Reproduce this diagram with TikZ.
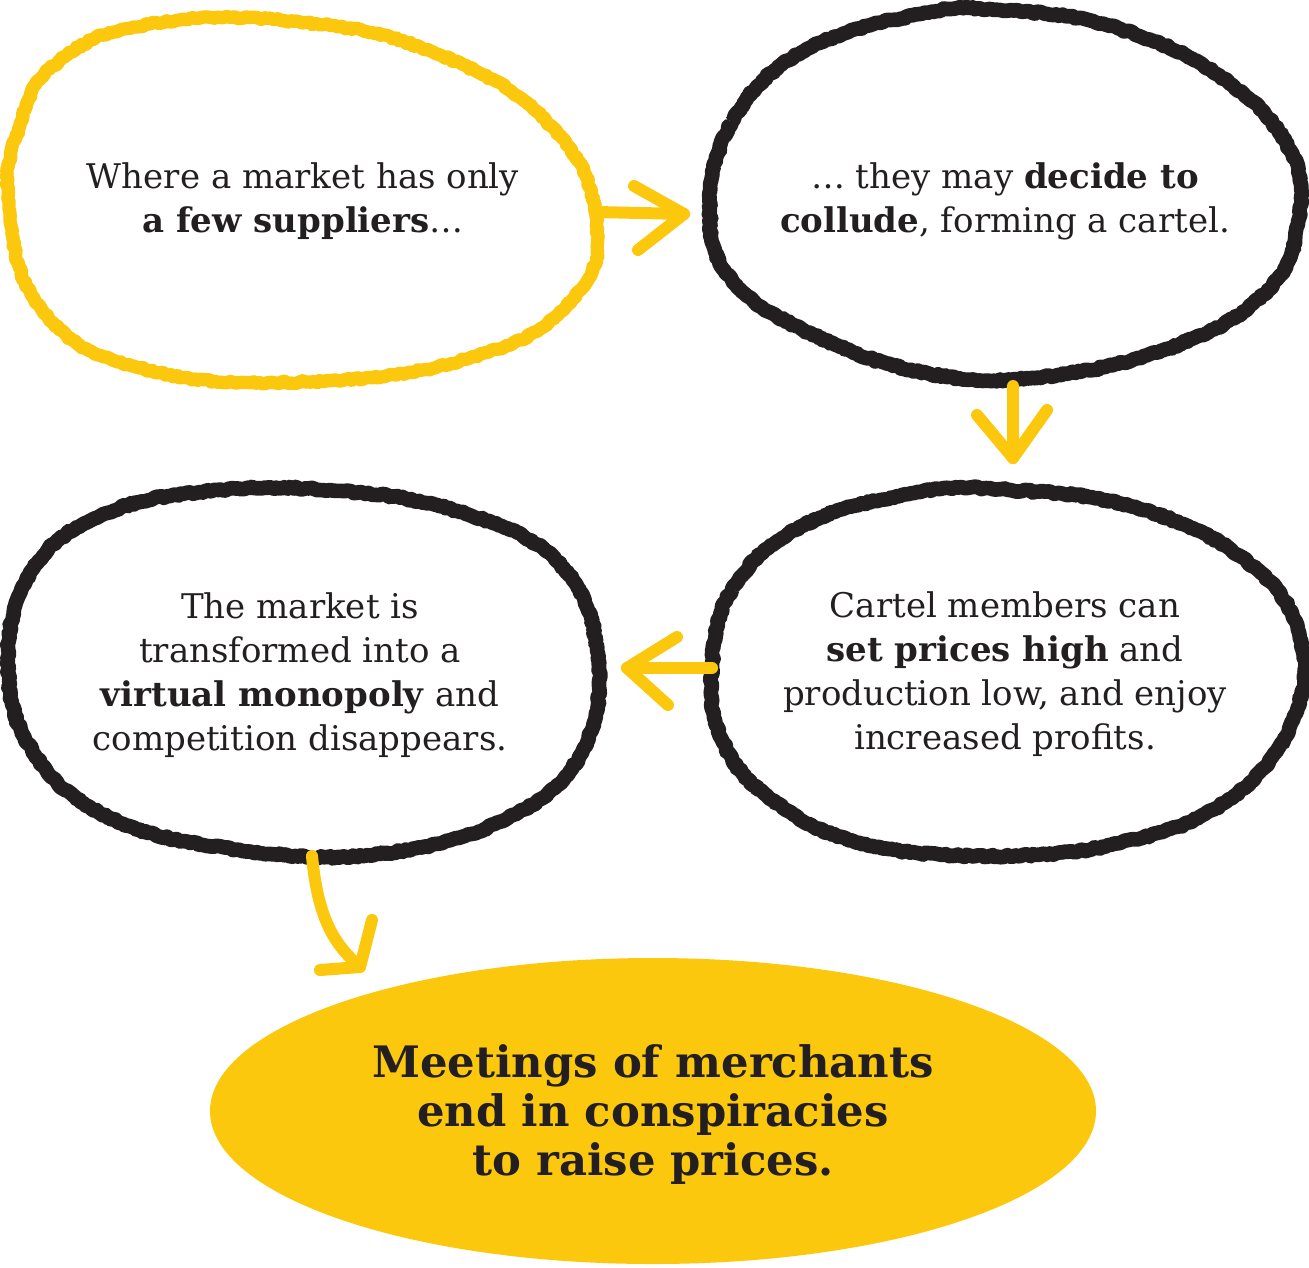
\documentclass[tikz,border=0pt]{standalone}
\usepackage{fontspec}
\setmainfont{DejaVu Serif}
\usetikzlibrary{decorations.pathmorphing}
\definecolor{ylw}{RGB}{252,200,14}
\definecolor{ink}{RGB}{35,31,32}
\begin{document}
\begin{tikzpicture}[x=0.75pt,y=-0.75pt,
  blob/.style={line width=11pt, line join=round, decorate,
    decoration={random steps, segment length=2.2pt, amplitude=0.9pt}},
  arr/.style={draw=ylw, line width=9pt, line cap=round, line join=round},
  txt/.style={align=center, text=ink, inner sep=0pt, font=\fontsize{25.5}{33}\selectfont},
  big/.style={align=center, text=ink, inner sep=0pt, font=\bfseries\fontsize{32.5}{36.75}\selectfont},
]
\pgfmathsetseed{7}
\useasboundingbox (0,0) rectangle (1309,1267);
% blobs
\draw[blob, draw=ylw, line width=10pt] plot[smooth cycle, tension=0.75] coordinates {
 (9,205) (20,125) (58,62) (150,24) (300,22) (440,55) (550,125) (596,218)
 (572,300) (470,358) (300,382) (140,368) (42,310)};
\draw[blob, draw=ink] plot[smooth cycle, tension=0.7] coordinates {
 (710,210) (732,122) (802,52) (920,14) (1000,10) (1110,26) (1220,76) (1290,150)
 (1298,222) (1268,290) (1180,344) (1050,376) (930,374) (812,334) (732,280)};
\draw[blob, draw=ink] plot[smooth cycle, tension=0.7] coordinates {
 (712,668) (732,590) (802,526) (920,492) (1010,490) (1130,506) (1240,556) (1298,630)
 (1293,720) (1228,800) (1120,843) (990,856) (860,843) (772,800) (722,740)};
\draw[blob, draw=ink] plot[smooth cycle, tension=0.7] coordinates {
 (8,660) (32,570) (100,516) (200,492) (330,490) (460,512) (558,562) (597,650)
 (583,750) (508,818) (380,854) (240,850) (110,818) (32,750)};
\fill[ylw] (653,1111) ellipse [x radius=443, y radius=153];
% text
\node[txt] (t1) at (303,201) {Where a market has only\\\textbf{a few suppliers}\ldots};
\node[txt] (t2) at (1005,201) {\ldots\ they may \textbf{decide to}\\\textbf{collude}, forming a cartel.};
\node[txt] (t3) at (1005,674) {Cartel members can\\\textbf{set prices high} and\\production low, and enjoy\\increased profits.};
\node[txt] (t4) at (300,675) {The market is\\transformed into a\\\textbf{virtual monopoly} and\\competition disappears.};
\node[big] (t5) at (653,1115) {Meetings of merchants\\end in conspiracies\\to raise prices.};
% arrow anchors
\coordinate (a1s) at (597,212); \coordinate (a1e) at (684,214);
\coordinate (a2s) at (1013,386); \coordinate (a2e) at (1013,458);
\coordinate (a3s) at (712,668); \coordinate (a3e) at (627,668);
\coordinate (a4s) at (312,856); \coordinate (a4e) at (360,967);
% arrows
\draw[arr] (a1s) -- (a1e);
\draw[arr] (634,186) -- (a1e) -- (638,250);
\draw[arr] (a2s) -- (a2e);
\draw[arr] (977,415) -- (a2e) -- (1047,410);
\draw[arr] (a3s) -- (a3e);
\draw[arr] (677,637) -- (a3e) -- (668,705);
\draw[arr] (a4s) .. controls (318,920) and (335,945) .. (a4e);
\draw[arr] (372,920) -- (a4e) -- (320,970);
\end{tikzpicture}
\end{document}
